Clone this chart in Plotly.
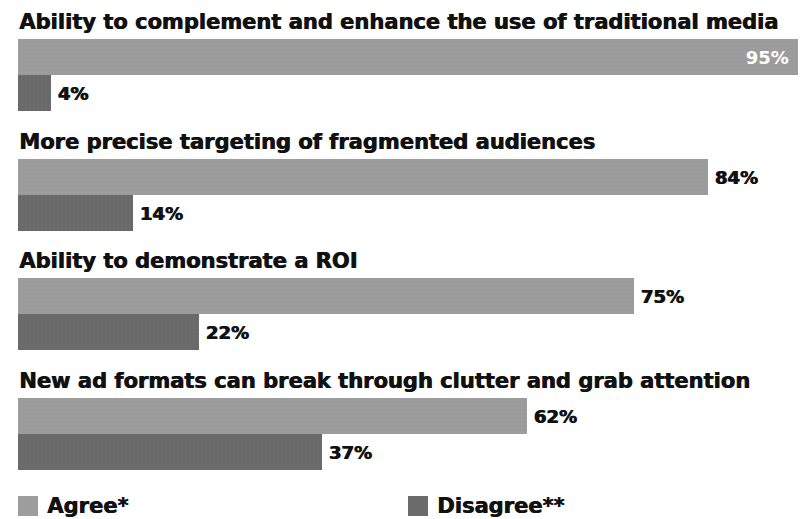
import plotly.graph_objects as go

# Survey statements and shares of respondents (%)
statements = [
    "Ability to complement and enhance the use of traditional media",
    "More precise targeting of fragmented audiences",
    "Ability to demonstrate a ROI",
    "New ad formats can break through clutter and grab attention",
]
agree = [95, 84, 75, 62]
disagree = [4, 14, 22, 37]
series_names = ["Agree*", "Disagree**"]
series_colors = ["#9d9d9d", "#6b6b6b"]

W, H = 806, 519
LEFT = 18
PX_PER_PCT = 8.21
BAR_H = 36
GROUP_TOP = [39, 159, 278, 398]

HEAVY = "0.8px 0px 0px #111111"
TITLE_FONT = dict(family="DejaVu Sans", size=21, color="#111111", weight="bold", shadow=HEAVY)
VALUE_FONT = dict(family="DejaVu Sans", size=18, color="#111111", weight="bold", shadow=HEAVY)

agree_y = [t + BAR_H / 2 for t in GROUP_TOP]
disagree_y = [t + BAR_H * 1.5 for t in GROUP_TOP]

fig = go.Figure()

for vals, ys, color, dot in [(agree, agree_y, series_colors[0], "#8a8a8a"),
                             (disagree, disagree_y, series_colors[1], "#5e5e5e")]:
    inside = [v >= 90 for v in vals]
    fig.add_trace(go.Bar(
        x=vals, y=ys, orientation="h", width=BAR_H,
        marker=dict(color=color, line=dict(width=0),
                    pattern=dict(shape=".", size=4, solidity=0.15,
                                 fgcolor=dot, bgcolor=color)),
        text=[f"{v}% " if ins else f"\u2009{v}%" for v, ins in zip(vals, inside)],
        textposition=["inside" if ins else "outside" for ins in inside],
        insidetextanchor="end",
        insidetextfont=dict(family="DejaVu Sans", size=18, color="white", weight="bold"),
        outsidetextfont=VALUE_FONT,
        textangle=0, constraintext="none", cliponaxis=False,
        showlegend=False, hoverinfo="skip",
    ))

# Statement headings above each pair of bars
for s, top in zip(statements, GROUP_TOP):
    fig.add_annotation(x=0, y=top - 17, xref="paper", yref="y", text=s,
                       showarrow=False, xanchor="left", yanchor="middle",
                       xshift=-1, font=TITLE_FONT)

# Legend drawn as swatches with labels
legend_x = [LEFT, 408]
for name, color, lx in zip(series_names, series_colors, legend_x):
    fig.add_shape(type="rect", xref="paper", yref="y",
                  x0=(lx - LEFT) / (W - LEFT), x1=(lx + 20 - LEFT) / (W - LEFT),
                  y0=496, y1=516, fillcolor=color, line=dict(width=0))
    fig.add_annotation(x=(lx + 27 - LEFT) / (W - LEFT), y=506, xref="paper", yref="y",
                       text=name, showarrow=False, xanchor="left", yanchor="middle",
                       font=dict(family="DejaVu Sans", size=21,
                                 color="#111111", weight="bold", shadow=HEAVY))

fig.update_layout(
    width=W, height=H,
    margin=dict(l=LEFT, r=0, t=0, b=0),
    paper_bgcolor="white", plot_bgcolor="white",
    barmode="overlay", bargap=0,
    xaxis=dict(range=[0, (W - LEFT) / PX_PER_PCT], visible=False, fixedrange=True),
    yaxis=dict(range=[H, 0], visible=False, fixedrange=True),
    uniformtext=dict(mode=False),
)

fig.write_html("out.html")
